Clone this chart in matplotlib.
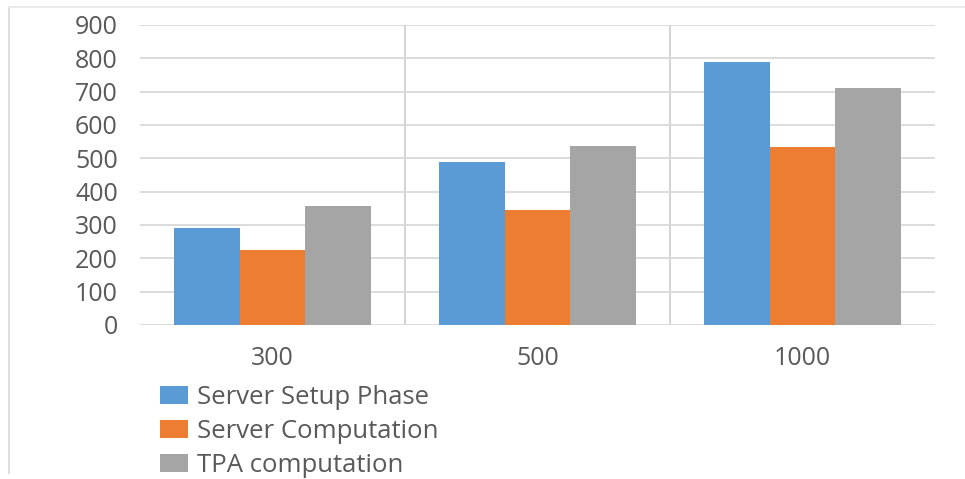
import matplotlib.pyplot as plt
import numpy as np
from matplotlib.lines import Line2D

# --- data -----------------------------------------------------------------
CATEGORIES = ["300", "500", "1000"]
SERIES = ["Server Setup Phase", "Server Computation", "TPA computation"]
SETUP = [290, 490, 788]
SERVER = [225, 345, 535]
TPA = [358, 537, 710]
COLORS = ["#5b9bd5", "#ed7d31", "#a5a5a5"]

plt.rcParams["font.family"] = ["Open Sans", "DejaVu Sans"]

fig = plt.figure(figsize=(9.65, 4.79), dpi=100)
ax = fig.add_axes([140 / 965, 1 - 325 / 479, 795 / 965, 300 / 479])

x = np.arange(len(CATEGORIES))
w = 0.248
for i, (vals, lab, col) in enumerate(zip([SETUP, SERVER, TPA], SERIES, COLORS)):
    ax.bar(x + (i - 1) * w, vals, width=w, color=col, label=lab, zorder=3)

ax.set_xlim(-0.5, len(CATEGORIES) - 0.5)
ax.set_ylim(0, 900)
ax.set_yticks(range(0, 901, 100))
ax.yaxis.grid(True, color="#d9d9d9", linewidth=1.3, zorder=0)
for b in x[:-1] + 0.5:
    ax.axvline(b, color="#d0d0d0", linewidth=1.3, zorder=1)
for s in ax.spines.values():
    s.set_visible(False)
ax.tick_params(length=0, labelsize=18, labelcolor="#595959")
ax.tick_params(axis="y", pad=16)
ax.tick_params(axis="x", pad=15)
ax.set_xticks(x)
ax.set_xticklabels(CATEGORIES)

# outer chart frame (left + top edge)
fig.add_artist(Line2D([9 / 965, 9 / 965], [1 - 473 / 479, 1 - 7 / 479],
                      color="#d9d9d9", linewidth=1.2, transform=fig.transFigure))
fig.add_artist(Line2D([9 / 965, 1.0], [1 - 7 / 479, 1 - 7 / 479],
                      color="#e6e6e6", linewidth=1.2, transform=fig.transFigure))

fig.legend(loc="upper left", bbox_to_anchor=(160 / 965, 1 - 385 / 479),
           frameon=False, fontsize=18.5, labelcolor="#595959",
           handlelength=1.1, handleheight=0.75, handletextpad=0.35,
           labelspacing=0.35, borderpad=0, borderaxespad=0)

fig.savefig("out.png", dpi=100)
